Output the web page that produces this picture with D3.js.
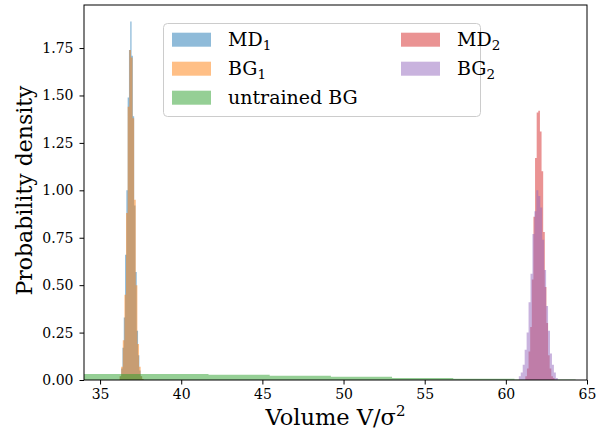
<!DOCTYPE html>
<html>
<head>
<meta charset="utf-8">
<script src="https://cdnjs.cloudflare.com/ajax/libs/d3/7.8.5/d3.min.js"></script>
<style>
  body { margin: 0; background: #fff; }
  svg text { font-family: "DejaVu Serif", serif; fill: #000; }
</style>
</head>
<body>
<div id="chart"></div>
<script>
/* ------------------------------ Data (densities) ------------------------------ */
// each histogram: first bin edge, bin width, density per bin
const md1Start = 36.22, md1Width = 0.08;
const md1Values = [0.02, 0.06, 0.17, 0.33, 0.66, 1.00, 1.49, 1.74, 1.89, 1.71, 1.39, 0.92, 0.57, 0.26, 0.13, 0.05, 0.02, 0.005];

const bg1Start = 36.2, bg1Width = 0.1;
const bg1Values = [0.02, 0.07, 0.21, 0.45, 0.88, 1.44, 1.74, 1.70, 1.38, 0.95, 0.50, 0.19, 0.07, 0.02, 0.005];

const untrainedStart = 30.37, untrainedWidth = 3.77;
const untrainedValues = [0.031, 0.031, 0.031, 0.028, 0.0227, 0.0176, 0.0106, 0.007, 0.003];

const md2Start = 61.2, md2Width = 0.1;
const md2Values = [0.02, 0.06, 0.15, 0.28, 0.53, 0.86, 1.17, 1.41, 1.42, 1.31, 1.10, 0.78, 0.49, 0.30, 0.13, 0.06, 0.02, 0.01];

const bg2Start = 60.8, bg2Width = 0.12;
const bg2Values = [0.02, 0.04, 0.08, 0.16, 0.25, 0.41, 0.56, 0.77, 0.89, 1.00, 0.97, 0.91, 0.74, 0.58, 0.39, 0.26, 0.14, 0.08, 0.04, 0.01];

const xTicks = [35, 40, 45, 50, 55, 60, 65];
const yTicks = [0, 0.25, 0.5, 0.75, 1.0, 1.25, 1.5, 1.75];

const series = [
    { name: 'MD', sub: '1', start: md1Start, width: md1Width, values: md1Values, color: '#1f77b4' },
    { name: 'BG', sub: '1', start: bg1Start, width: bg1Width, values: bg1Values, color: '#ff7f0e' },
    { name: 'untrained BG', sub: '', start: untrainedStart, width: untrainedWidth, values: untrainedValues, color: '#2ca02c' },
    { name: 'MD', sub: '2', start: md2Start, width: md2Width, values: md2Values, color: '#d62728' },
    { name: 'BG', sub: '2', start: bg2Start, width: bg2Width, values: bg2Values, color: '#9467bd' }
];

/* --------------------------------- Layout --------------------------------- */
const W = 602, H = 430;
const margin = { top: 5, right: 15, bottom: 50, left: 84 };
const innerW = W - margin.left - margin.right;
const innerH = H - margin.top - margin.bottom;

const svg = d3.select('#chart').append('svg')
    .attr('width', W)
    .attr('height', H);

const x = d3.scaleLinear().domain([34.01, 65]).range([0, innerW]);
const y = d3.scaleLinear().domain([0, 1.977]).range([innerH, 0]);

const g = svg.append('g')
    .attr('transform', `translate(${margin.left},${margin.top})`);

g.append('clipPath').attr('id', 'plotclip')
    .append('rect').attr('width', innerW).attr('height', innerH);

// step areas, one path per histogram
const area = d3.area()
    .curve(d3.curveStepAfter)
    .x(d => x(d.x))
    .y0(y(0))
    .y1(d => y(d.y));

const plot = g.append('g').attr('clip-path', 'url(#plotclip)');
series.forEach(s => {
    const pts = s.values.map((v, i) => ({ x: s.start + i * s.width, y: v }));
    pts.push({ x: s.start + s.values.length * s.width, y: s.values[s.values.length - 1] });
    plot.append('path')
        .attr('d', area(pts))
        .attr('fill', s.color)
        .attr('fill-opacity', 0.5);
});

/* ---------------------------------- Axes ---------------------------------- */
const xAxis = g.append('g')
    .attr('transform', `translate(0,${innerH})`)
    .call(d3.axisBottom(x).tickValues(xTicks).tickSize(4.5).tickPadding(5).tickFormat(d3.format('d')));
const yAxis = g.append('g')
    .call(d3.axisLeft(y).tickValues(yTicks).tickSize(4.5).tickPadding(6).tickFormat(d3.format('.2f')));

[xAxis, yAxis].forEach(a => {
    a.select('.domain').remove();
    a.selectAll('.tick line').attr('stroke', '#000').attr('stroke-width', 1);
    a.selectAll('.tick text').style('font-size', '14px').attr('fill', '#000');
});

// frame
g.append('rect')
    .attr('width', innerW)
    .attr('height', innerH)
    .attr('fill', 'none')
    .attr('stroke', '#000')
    .attr('stroke-width', 1);

// axis labels
svg.append('text')
    .attr('x', margin.left + innerW / 2)
    .attr('y', 425)
    .attr('text-anchor', 'middle')
    .style('font-size', '22.5px')
    .html('Volume V/σ<tspan dy="-9" font-size="15px">2</tspan>');

svg.append('text')
    .attr('transform', `translate(32,${margin.top + innerH / 2 - 2}) rotate(-90)`)
    .attr('text-anchor', 'middle')
    .style('font-size', '22px')
    .text('Probability density');

/* --------------------------------- Legend --------------------------------- */
const legend = svg.append('g');
legend.append('rect')
    .attr('x', 163.5).attr('y', 23.5)
    .attr('width', 317).attr('height', 93)
    .attr('rx', 4)
    .attr('fill', '#fff').attr('fill-opacity', 0.8)
    .attr('stroke', '#ccc');

const colX = [172, 401];
series.forEach((s, i) => {
    const col = i < 3 ? 0 : 1;
    const row = i < 3 ? i : i - 3;
    const cy = 39.7 + row * 29;
    legend.append('rect')
        .attr('x', colX[col]).attr('y', cy - 7)
        .attr('width', 39).attr('height', 14)
        .attr('fill', s.color).attr('fill-opacity', 0.5);
    const t = legend.append('text')
        .attr('x', colX[col] + 56)
        .attr('y', cy + 6.5)
        .style('font-size', '19px')
        .text(s.name);
    if (s.sub) {
        t.append('tspan').attr('dy', 4).style('font-size', '13.5px').text(s.sub);
    }
});
</script>
</body>
</html>
